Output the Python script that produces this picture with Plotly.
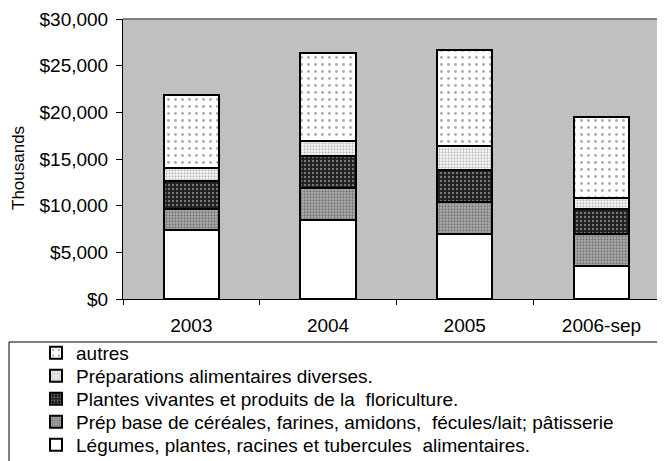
import plotly.graph_objects as go

categories = ["2003", "2004", "2005", "2006-sep"]
legumes = [7390, 8500, 6930, 3570]
prep_base = [2220, 3360, 3430, 3390]
plantes = [3070, 3500, 3500, 2650]
preparations = [1320, 1570, 2570, 1210]
autres = [7890, 9430, 10250, 8640]

names = [
    "Légumes, plantes, racines et tubercules  alimentaires.",
    "Prép base de céréales, farines, amidons,  fécules/lait; pâtisserie",
    "Plantes vivantes et produits de la  floriculture.",
    "Préparations alimentaires diverses.",
    "autres",
]
series = [legumes, prep_base, plantes, preparations, autres]
patterns = [
    dict(shape="", bgcolor="white", fgcolor="white"),
    dict(shape=".", bgcolor="#b0b0b0", fgcolor="#3a3a3a", size=3, solidity=0.45),
    dict(shape=".", bgcolor="#1e1e1e", fgcolor="#c8c8c8", size=4, solidity=0.3),
    dict(shape=".", bgcolor="#ffffff", fgcolor="#7a7a7a", size=3, solidity=0.45),
    dict(shape=".", bgcolor="#ffffff", fgcolor="#555555", size=7, solidity=0.13),
]
colors = ["white", "#909090", "#303030", "#d0d0d0", "#f4f4f4"]

# page offset (body margin) compensation
OFF = 8
W, H = 665 - OFF, 461 - OFF
PL, PR, PT, PB = 123, 665, 19, 299  # plot area in page pixels
L, T = PL - OFF, PT - OFF
B = H - (PB - OFF)
pw, ph = W - L, H - T - B

def px(x):
    return (x - PL) / pw

def py(y):
    return (PB - y) / ph

FONT = "Liberation Sans, Arial, sans-serif"
LEG_FONT = 19
legend_rows = [445, 422, 399, 376, 353]  # page y for each trace's legend row
legend_ids = ["legend5", "legend4", "legend3", "legend2", "legend"]

fig = go.Figure()
for name, vals, pat, col, lid in zip(names, series, patterns, colors, legend_ids):
    fig.add_trace(go.Bar(
        x=categories, y=vals, name=name, width=0.405, legend=lid,
        marker=dict(color=col, line=dict(color="black", width=2), pattern=pat),
    ))

legends = {}
for lid, row in zip(legend_ids, legend_rows):
    legends[lid] = dict(
        orientation="v", xref="container", yref="container",
        x=(36 - OFF) / W, xanchor="left",
        y=1 - (row - OFF) / H, yanchor="middle",
        font=dict(family=FONT, size=LEG_FONT, color="black"),
        bgcolor="rgba(0,0,0,0)", borderwidth=0, itemwidth=30,
    )

box_l, box_r, box_t, box_b = px(9), px(659), py(342), py(470)
box_line = dict(color="black", width=1)

fig.update_layout(
    width=W, height=H, barmode="stack",
    margin=dict(l=L, r=0, t=T, b=B, autoexpand=False),
    paper_bgcolor="white", plot_bgcolor="#c0c0c0",
    font=dict(family=FONT, size=19, color="black"),
    showlegend=True,
    xaxis=dict(
        range=[-0.5, -0.5 + pw / 136.7], showline=True, linecolor="black", linewidth=1,
        ticks="outside", tickson="boundaries", ticklen=5, tickcolor="black",
        showgrid=False, zeroline=False, ticklabelstandoff=9,
        tickfont=dict(family=FONT, size=19),
    ),
    yaxis=dict(
        range=[0, 30000], dtick=5000, tickprefix="$", tickformat=",d",
        showline=True, linecolor="black", linewidth=1,
        ticks="outside", ticklen=6, tickcolor="black",
        showgrid=False, zeroline=False, ticklabelstandoff=4,
        tickfont=dict(family=FONT, size=19),
    ),
    shapes=[
        dict(type="line", xref="paper", yref="paper", x0=0, x1=1, y0=1, y1=1,
             line=dict(color="#808080", width=2)),
        dict(type="line", xref="paper", yref="paper", x0=box_l, x1=box_r,
             y0=box_t, y1=box_t, line=box_line),
        dict(type="line", xref="paper", yref="paper", x0=box_l, x1=box_l,
             y0=box_t, y1=box_b, line=box_line),
        dict(type="line", xref="paper", yref="paper", x0=box_r, x1=box_r,
             y0=box_t, y1=box_b, line=box_line),
    ],
    annotations=[
        dict(text="Thousands", xref="paper", yref="paper", x=px(18), y=py(168),
             xanchor="center", yanchor="middle",
             textangle=-90, showarrow=False, font=dict(family=FONT, size=17)),
    ],
    **legends,
)

fig.write_html("out.html")
